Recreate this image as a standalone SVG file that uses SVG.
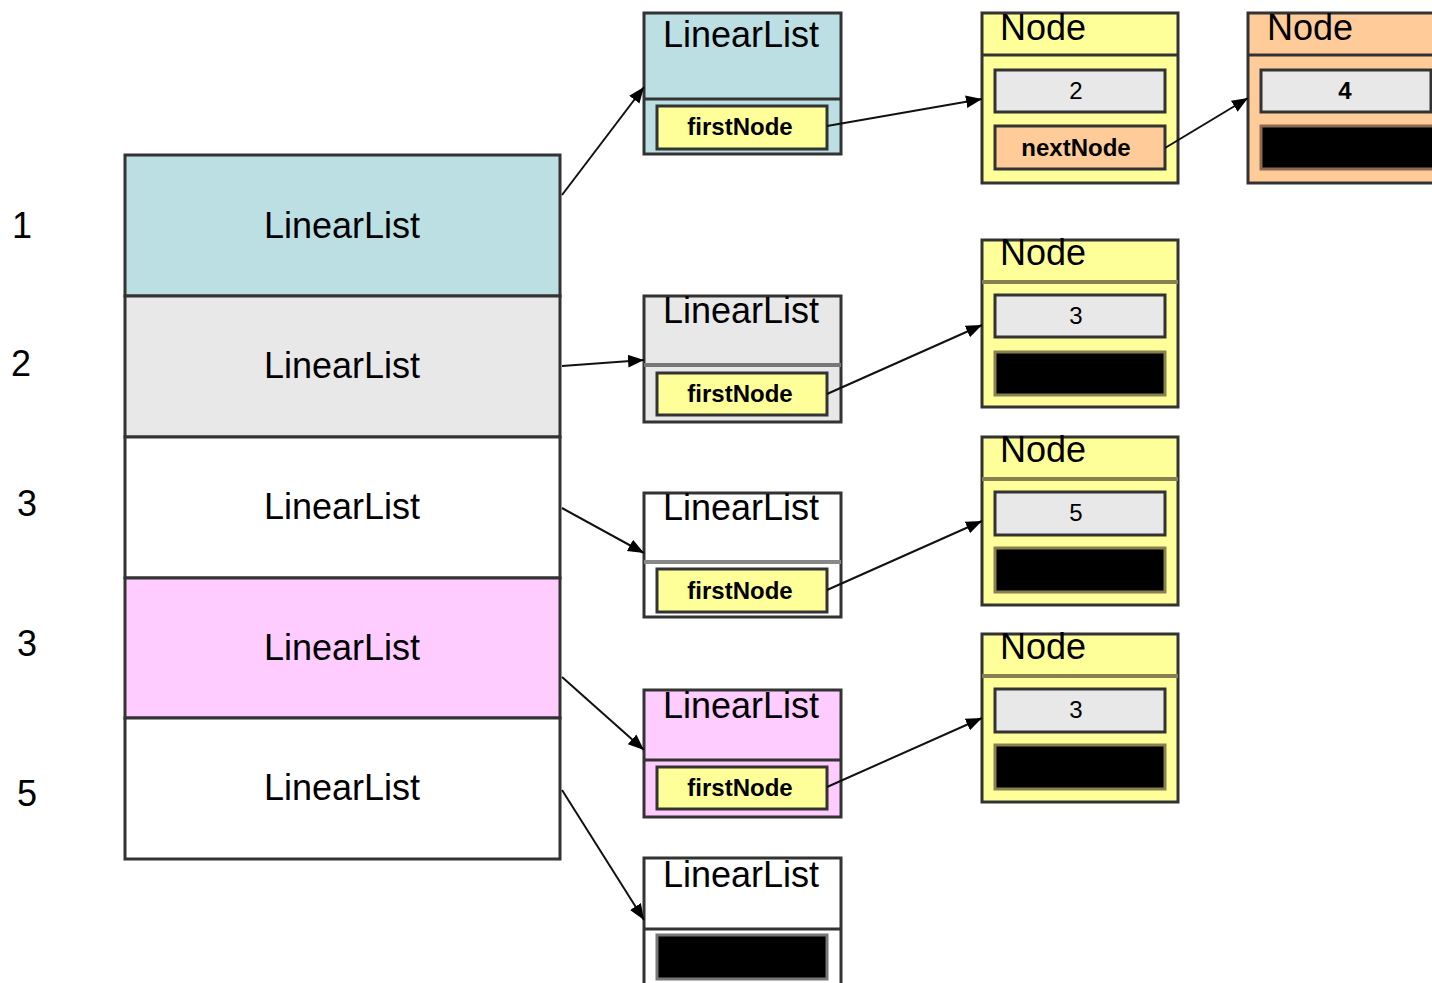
<svg xmlns="http://www.w3.org/2000/svg" width="1432" height="983" viewBox="0 0 1432 983">
<defs>
<marker id="ah2" viewBox="0 0 10 10" refX="10" refY="5" markerWidth="16" markerHeight="16" markerUnits="userSpaceOnUse" orient="auto"><path d="M0,1 L10,5 L0,9 z" fill="#000"/></marker>
</defs>
<style>
.t{font-family:"Liberation Sans",Arial,sans-serif;fill:#000}
.big{font-size:36px}
.mid{font-size:24px;font-weight:bold}
.num{font-size:24px;font-weight:normal}
.box{stroke:#333;stroke-width:3}
.inner{stroke:#333;stroke-width:3}
.conn{stroke:#111;stroke-width:2;fill:none;marker-end:url(#ah2)}
</style>
<rect width="1432" height="983" fill="#fff"/>

<g id="labels">
<text class="t big" x="12" y="238">1</text>
<text class="t big" x="11" y="376">2</text>
<text class="t big" x="17" y="516">3</text>
<text class="t big" x="17" y="656">3</text>
<text class="t big" x="17" y="806">5</text>
</g>

<g id="table">
<rect x="125" y="155" width="435" height="141" fill="#BBDFE2" class="box"/>
<rect x="125" y="296" width="435" height="141" fill="#E8E8E8" class="box"/>
<rect x="125" y="437" width="435" height="141" fill="#FFFFFF" class="box"/>
<rect x="125" y="578" width="435" height="140" fill="#FFCCFF" class="box"/>
<rect x="125" y="718" width="435" height="141" fill="#FFFFFF" class="box"/>
<text class="t big" x="342" y="238" text-anchor="middle">LinearList</text>
<text class="t big" x="342" y="378" text-anchor="middle">LinearList</text>
<text class="t big" x="342" y="519" text-anchor="middle">LinearList</text>
<text class="t big" x="342" y="660" text-anchor="middle">LinearList</text>
<text class="t big" x="342" y="800" text-anchor="middle">LinearList</text>
</g>

<g id="list1">
<rect x="644" y="13" width="197" height="141" fill="#BBDFE2" class="box"/>
<line x1="644" y1="99" x2="841" y2="99" class="box"/>
<text class="t big" x="741" y="47" text-anchor="middle">LinearList</text>
<rect x="657" y="106" width="170" height="43" fill="#FFFF99" class="inner"/>
<text class="t mid" x="740" y="135" text-anchor="middle">firstNode</text>
</g>

<g id="list2">
<rect x="644" y="296" width="197" height="126" fill="#E8E8E8" class="box"/>
<line x1="644" y1="365" x2="841" y2="365" stroke="#777" stroke-width="4"/>
<text class="t big" x="741" y="323" text-anchor="middle">LinearList</text>
<rect x="657" y="373" width="170" height="42" fill="#FFFF99" class="inner"/>
<text class="t mid" x="740" y="402" text-anchor="middle">firstNode</text>
</g>

<g id="list3">
<rect x="644" y="493" width="197" height="124" fill="#FFFFFF" class="box"/>
<line x1="644" y1="562" x2="841" y2="562" stroke="#888" stroke-width="4"/>
<text class="t big" x="741" y="520" text-anchor="middle">LinearList</text>
<rect x="657" y="569" width="170" height="43" fill="#FFFF99" class="inner"/>
<text class="t mid" x="740" y="599" text-anchor="middle">firstNode</text>
</g>

<g id="list4">
<rect x="644" y="690" width="197" height="127" fill="#FFCCFF" class="box"/>
<line x1="644" y1="760" x2="841" y2="760" class="box"/>
<text class="t big" x="741" y="718" text-anchor="middle">LinearList</text>
<rect x="657" y="767" width="170" height="42" fill="#FFFF99" class="inner"/>
<text class="t mid" x="740" y="796" text-anchor="middle">firstNode</text>
</g>

<g id="list5">
<rect x="644" y="858" width="197" height="130" fill="#FFFFFF" class="box"/>
<line x1="644" y1="929" x2="841" y2="929" class="box"/>
<text class="t big" x="741" y="887" text-anchor="middle">LinearList</text>
<rect x="657" y="935" width="170" height="44" fill="#000" stroke="#777" stroke-width="3"/>
</g>

<g id="node2">
<rect x="982" y="13" width="196" height="170" fill="#FFFF99" class="box"/>
<line x1="982" y1="55" x2="1178" y2="55" class="box"/>
<text class="t big" x="1000" y="40">Node</text>
<rect x="995" y="70" width="170" height="42" fill="#E8E8E8" class="inner"/>
<text class="t num" x="1076" y="99" text-anchor="middle">2</text>
<rect x="995" y="126" width="170" height="43" fill="#FFCC99" class="inner"/>
<text class="t mid" x="1076" y="156" text-anchor="middle">nextNode</text>
</g>

<g id="node4">
<rect x="1248" y="13" width="200" height="170" fill="#FFCC99" class="box"/>
<line x1="1248" y1="55" x2="1432" y2="55" class="box"/>
<text class="t big" x="1267" y="40">Node</text>
<rect x="1261" y="70" width="170" height="42" fill="#E8E8E8" class="inner"/>
<text class="t mid" x="1345" y="99" text-anchor="middle">4</text>
<rect x="1261" y="126" width="175" height="43" fill="#000" stroke="#8a6a50" stroke-width="3"/>
</g>

<g id="node3a">
<rect x="982" y="240" width="196" height="167" fill="#FFFF99" class="box"/>
<line x1="982" y1="282" x2="1178" y2="282" stroke="#888050" stroke-width="4"/>
<text class="t big" x="1000" y="265">Node</text>
<rect x="995" y="295" width="170" height="42" fill="#E8E8E8" class="inner"/>
<text class="t num" x="1076" y="324" text-anchor="middle">3</text>
<rect x="995" y="352" width="170" height="43" fill="#000" stroke="#888050" stroke-width="3"/>
</g>

<g id="node5">
<rect x="982" y="437" width="196" height="168" fill="#FFFF99" class="box"/>
<line x1="982" y1="479" x2="1178" y2="479" stroke="#888050" stroke-width="4"/>
<text class="t big" x="1000" y="462">Node</text>
<rect x="995" y="492" width="170" height="43" fill="#E8E8E8" class="inner"/>
<text class="t num" x="1076" y="521" text-anchor="middle">5</text>
<rect x="995" y="548" width="170" height="44" fill="#000" stroke="#888050" stroke-width="3"/>
</g>

<g id="node3b">
<rect x="982" y="634" width="196" height="168" fill="#FFFF99" class="box"/>
<line x1="982" y1="676" x2="1178" y2="676" stroke="#888050" stroke-width="4"/>
<text class="t big" x="1000" y="659">Node</text>
<rect x="995" y="689" width="170" height="43" fill="#E8E8E8" class="inner"/>
<text class="t num" x="1076" y="718" text-anchor="middle">3</text>
<rect x="995" y="745" width="170" height="44" fill="#000" stroke="#888050" stroke-width="3"/>
</g>

<g id="connectors">
<line class="conn" x1="562" y1="195" x2="644" y2="87"/>
<line class="conn" x1="562" y1="366" x2="644" y2="360"/>
<line class="conn" x1="562" y1="508" x2="644" y2="553"/>
<line class="conn" x1="562" y1="677" x2="644" y2="750"/>
<line class="conn" x1="562" y1="790" x2="644" y2="920"/>
<line class="conn" x1="827" y1="126" x2="982" y2="99"/>
<line class="conn" x1="1165" y1="148" x2="1248" y2="98"/>
<line class="conn" x1="827" y1="394" x2="982" y2="325"/>
<line class="conn" x1="827" y1="590" x2="982" y2="521"/>
<line class="conn" x1="827" y1="787" x2="982" y2="718"/>
</g>
</svg>
